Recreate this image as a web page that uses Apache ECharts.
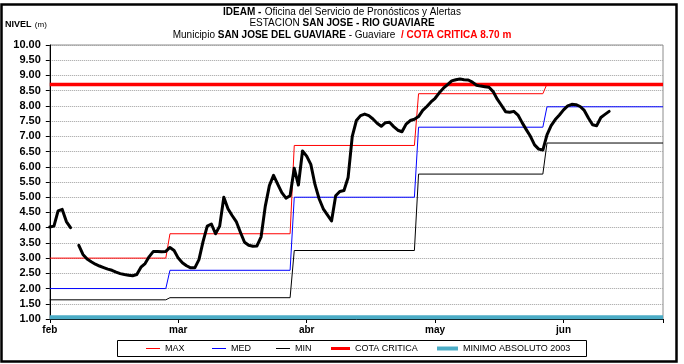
<!DOCTYPE html>
<html>
<head>
<meta charset="utf-8">
<script src="https://cdn.jsdelivr.net/npm/echarts@6/dist/echarts.min.js"></script>
<style>
  html, body { margin: 0; padding: 0; background: #fff; }
  #chart { width: 684px; height: 364px; }
</style>
</head>
<body>
<div id="chart"></div>
<script>
// Month tick labels (one tick every 31 days, day 0 = 1 feb)
const months = ['feb', 'mar', 'abr', 'may', 'jun'];

// Daily water level (m), day 0 = 1 feb; null = no reading
const nivel = [
  4.02, 4.05, 4.55, 4.60, 4.20, 4.00, null, 3.42, 3.12, 2.97,
  2.88, 2.80, 2.74, 2.69, 2.64, 2.60, 2.54, 2.49, 2.46, 2.44,
  2.42, 2.46, 2.70, 2.82, 3.05, 3.22, 3.22, 3.21, 3.22, 3.35,
  3.25, 3.00, 2.85, 2.75, 2.68, 2.68, 2.95, 3.55, 4.05, 4.12,
  3.80, 4.05, 5.00, 4.62, 4.40, 4.20, 3.85, 3.52, 3.42, 3.39,
  3.40, 3.70, 4.70, 5.38, 5.72, 5.43, 5.15, 4.97, 5.05, 5.95,
  5.40, 6.52, 6.35, 6.08, 5.42, 4.95, 4.62, 4.42, 4.22, 5.05,
  5.19, 5.22, 5.65, 7.00, 7.52, 7.68, 7.73, 7.68, 7.57, 7.43,
  7.33, 7.45, 7.46, 7.32, 7.20, 7.15, 7.40, 7.52, 7.56, 7.65,
  7.85, 7.98, 8.13, 8.25, 8.43, 8.58, 8.70, 8.82, 8.86, 8.88,
  8.86, 8.85, 8.78, 8.68, 8.65, 8.63, 8.61, 8.47, 8.22, 8.02,
  7.81, 7.79, 7.82, 7.70, 7.45, 7.22, 7.00, 6.72, 6.58, 6.55,
  7.05, 7.35, 7.55, 7.70, 7.87, 8.00, 8.05, 8.04, 7.98, 7.85,
  7.60, 7.38, 7.35, 7.62, 7.72, 7.82
];

// Monthly historical levels: first day of each period and its MAX / MED / MIN
const periodStart = [0, 29, 59, 89, 120];
const maxLevel = [3.00, 3.80, 6.70, 8.40, 8.72];
const medLevel = [2.00, 2.60, 5.00, 7.30, 7.97];
const minLevel = [1.63, 1.70, 3.25, 5.76, 6.78];

const cotaCritica = 8.70;
const minimoAbsoluto = 1.06;
const lastDay = 148;

function steps(levels) {
  const pts = [];
  for (let i = 0; i < periodStart.length; i++) {
    const end = i + 1 < periodStart.length ? periodStart[i + 1] - 1 : lastDay;
    pts.push([periodStart[i], levels[i]], [end, levels[i]]);
  }
  return pts;
}
const flat = v => [[0, v], [lastDay, v]];

const FONT = 'Liberation Sans, Arial, sans-serif';
const chart = echarts.init(document.getElementById('chart'), null, { renderer: 'canvas' });

const rich = {
  b: { fontFamily: FONT, fontSize: 10, fontWeight: 'bold', fill: '#000' },
  n: { fontFamily: FONT, fontSize: 10, fill: '#000' },
  r: { fontFamily: FONT, fontSize: 10, fontWeight: 'bold', fill: '#ff0000' }
};
const titleLine = (text, top) => ({ type: 'text', left: 'center', top: top, style: { text: text, rich: rich } });

const legendText = { fontFamily: FONT, fontSize: 9, color: '#000' };
function legendAt(name, left, w, h) {
  return {
    data: [{ name: name, icon: 'rect' }], left: left, top: 344, itemWidth: w, itemHeight: h, itemGap: 0,
    textStyle: legendText, padding: 0, selectedMode: false
  };
}

chart.setOption({
  animation: false,
  backgroundColor: '#fff',
  graphic: [
    titleLine('{b|IDEAM -} {n|Oficina del Servicio de Pronósticos y Alertas}', 6),
    titleLine('{n|ESTACION }{b|SAN JOSE - RIO GUAVIARE}', 18),
    titleLine('{n|Municipio }{b|SAN JOSE DEL GUAVIARE}{n| - Guaviare  }{r|/ COTA CRITICA 8.70 m}', 30),
    { type: 'rect', shape: { x: 1.5, y: 4.5, width: 675, height: 357 },
      style: { fill: 'none', stroke: '#000', lineWidth: 2.5 }, z: 100 },
    { type: 'rect', shape: { x: 117.5, y: 340.5, width: 469, height: 16 },
      style: { fill: 'none', stroke: '#000', lineWidth: 1 }, z: 100 },
    { type: 'text', left: 5, top: 19,
      style: { text: '{b|NIVEL} {n|(m)}', rich: {
        b: { fontFamily: FONT, fontSize: 9, fontWeight: 'bold', fill: '#000' },
        n: { fontFamily: FONT, fontSize: 8, fill: '#000' } } } }
  ],
  legend: [
    legendAt('MAX', 146, 14, 1),
    legendAt('MED', 212, 14, 1),
    legendAt('MIN', 276, 14, 1),
    legendAt('COTA CRITICA', 331, 19, 3),
    legendAt('MINIMO ABSOLUTO 2003', 437, 21, 4)
  ],
  grid: { left: 49.8, right: 21, top: 45, bottom: 45, show: true, borderColor: '#8c8c8c', borderWidth: 1 },
  xAxis: {
    type: 'value', min: 0, max: lastDay, interval: 31,
    axisLine: { lineStyle: { color: '#000', width: 1 } },
    axisTick: { length: 4, lineStyle: { color: '#000' } },
    splitLine: { show: false },
    axisLabel: {
      fontFamily: FONT, fontSize: 10, fontWeight: 'bold', color: '#000', margin: 6,
      formatter: v => months[Math.round(v / 31)] || ''
    }
  },
  yAxis: {
    type: 'value', min: 1, max: 10, interval: 0.5,
    axisLine: { show: true, lineStyle: { color: '#000', width: 1 } },
    axisTick: { show: true, length: 4, lineStyle: { color: '#000' } },
    splitLine: { lineStyle: { color: '#a0a0a0', type: [1, 1], width: 1 } },
    axisLabel: {
      fontFamily: FONT, fontSize: 11, fontWeight: 'bold', color: '#000', margin: 9,
      formatter: v => v.toFixed(2)
    }
  },
  series: [
    { name: 'MINIMO ABSOLUTO 2003', type: 'line', data: flat(minimoAbsoluto), symbol: 'none',
      lineStyle: { color: '#4bacc6', width: 4 }, itemStyle: { color: '#4bacc6' }, z: 3 },
    { name: 'MIN', type: 'line', data: steps(minLevel), symbol: 'none',
      lineStyle: { color: '#000', width: 1 }, itemStyle: { color: '#000' }, z: 2 },
    { name: 'MED', type: 'line', data: steps(medLevel), symbol: 'none',
      lineStyle: { color: '#0000ff', width: 1 }, itemStyle: { color: '#0000ff' }, z: 2 },
    { name: 'MAX', type: 'line', data: steps(maxLevel), symbol: 'none',
      lineStyle: { color: '#ff0000', width: 1 }, itemStyle: { color: '#ff0000' }, z: 2 },
    { name: 'COTA CRITICA', type: 'line', data: flat(cotaCritica), symbol: 'none',
      lineStyle: { color: '#ff0000', width: 3.5 }, itemStyle: { color: '#ff0000' }, z: 3 },
    { name: 'NIVEL', type: 'line', data: nivel.map((v, d) => [d, v]), symbol: 'none',
      connectNulls: false,
      lineStyle: { color: '#000', width: 3, join: 'round', cap: 'round' }, z: 4 }
  ]
});
</script>
</body>
</html>
